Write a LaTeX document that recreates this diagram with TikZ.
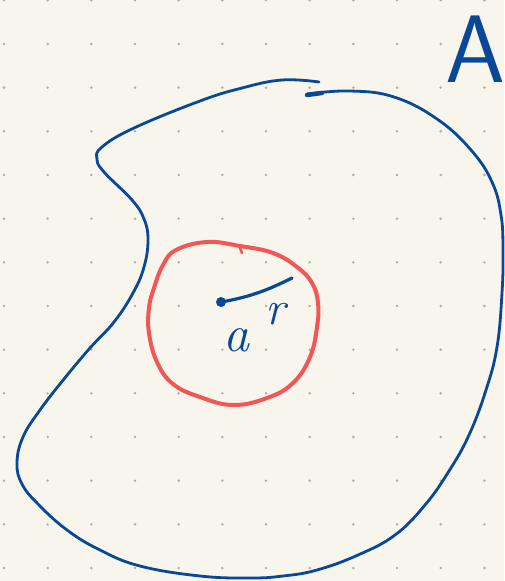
\documentclass[tikz,border=0pt]{standalone}
\usepackage{fontspec}
\definecolor{bg}{RGB}{248,246,236}
\definecolor{dotc}{RGB}{175,175,168}
\definecolor{inkblue}{RGB}{8,72,150}
\definecolor{inkred}{RGB}{243,86,86}
\begin{document}
\begin{tikzpicture}[x=1pt,y=-1pt,
  blueline/.style={draw=inkblue,line width=2.8pt,line cap=round,line join=round},
  redline/.style={draw=inkred,line width=4pt,line cap=round,line join=round},
  inklabel/.style={text=inkblue,inner sep=0pt}]
\fill[bg] (0,0) rectangle (504,581);
\useasboundingbox (0,0) rectangle (504,581);
\foreach \i in {0,...,11}{
  \foreach \j in {0,...,13}{
    \fill[dotc] ({4+\i*43.67},{0.3+\j*43.67}) circle (1.4);
  }
}
% outer region A
\draw[blueline] plot[smooth,tension=0.7] coordinates {
 (307,94) (350,91) (394,97) (437,119) (471,150) (492,182) (501,215) (503,250)
 (502,293) (497,347) (486,390) (469,435) (449,471) (425,505) (395,535) (358,555)
 (317,570) (283,576) (250,578) (200,576) (140,566) (100,550) (67,530) (38,504)
 (22,484) (17,463) (23,437) (40,410) (64,379) (90,348) (114,322) (133,293)
 (144,267) (148,240) (144,219) (132,200) (104,172) (97,159) (102,147) (134,128)
 (200,101) (242,88) (282,80) (319,82)};
\draw[blueline,line width=4.4pt] (307,95) -- (322,93);
% disc
\draw[redline] plot[smooth cycle,tension=0.7] coordinates {
 (207,242) (240,246) (273,253) (297,267) (312,283) (318,303) (317,327) (310,357)
 (293,383) (267,398) (233,405) (200,397) (173,384) (157,362) (149,333) (149,308)
 (154,288) (163,265) (176,250)};
\draw[redline,line width=2.6pt] (240,248) -- (242,253);
% centre and radius
\node[circle,fill=inkblue,inner sep=0pt,minimum size=10pt] (ctr) at (221,302) {};
\coordinate (rend) at (292,278);
\draw[blueline,line width=3.2pt] (ctr.center) .. controls (250,297) and (268,290) .. (rend);
\node[inklabel,font=\fontsize{48}{48}\selectfont\itshape] (rlab) at (275,314) {r};
\node[inklabel,font=\fontsize{52}{52}\selectfont\itshape] (alab) at (236,340) {a};
\node[inklabel,font=\fontsize{96}{96}\selectfont\sffamily,anchor=south] (Alab) at (475,83) {A};
\end{tikzpicture}
\end{document}
